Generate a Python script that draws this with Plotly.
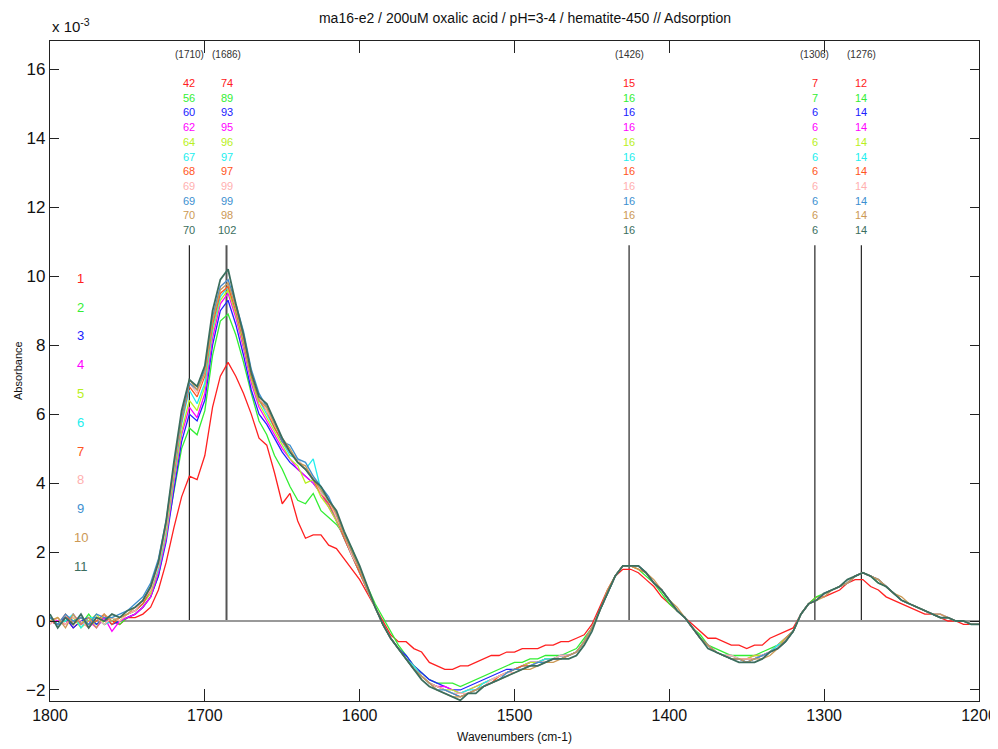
import plotly.graph_objects as go

# ---------------------------------------------------------
# Data (absorbance in units of 1e-4, every 5 cm-1, 1800 -> 1200)
# ---------------------------------------------------------
wavenumbers = list(range(1800, 1199, -5))

s1 = [0, -1, 1, -2, 0, -2, 1, -1, 0, -1,
      1, 1, 2, 4, 9, 17, 27, 36, 42, 41,
      48, 62, 71, 75, 71, 66, 60, 53, 51, 43,
      34, 37, 29, 24, 25, 25, 22, 21, 18, 15,
      12, 8, 4, 0, -4, -6, -6, -8, -9, -12,
      -13, -14, -14, -13, -13, -12, -11, -10, -10, -9,
      -9, -8, -8, -8, -7, -7, -6, -6, -5, -4,
      -1, 4, 9, 13, 15, 15, 14, 12, 10, 7,
      5, 3, 1, -1, -3, -5, -5, -6, -7, -7,
      -8, -7, -7, -5, -4, -3, -2, 2, 5, 7,
      7, 8, 9, 11, 12, 12, 10, 9, 7, 6,
      5, 4, 3, 2, 2, 1, 0, 0, -1, -1,
      -1]
s2 = [1, -1, 0, 1, -1, 2, -1, 0, 1, -1,
      1, 2, 4, 7, 13, 25, 38, 50, 56, 54,
      61, 77, 87, 89, 83, 75, 66, 58, 54, 48,
      44, 39, 35, 34, 37, 32, 30, 28, 25, 21,
      15, 10, 5, 1, -3, -7, -10, -13, -15, -17,
      -18, -18, -18, -19, -18, -17, -16, -15, -14, -13,
      -12, -12, -11, -11, -10, -10, -10, -9, -8, -5,
      -2, 3, 8, 13, 16, 16, 15, 13, 11, 8,
      5, 3, 1, -2, -4, -7, -8, -9, -10, -10,
      -10, -10, -9, -8, -7, -5, -3, 2, 5, 7,
      8, 9, 10, 11, 13, 14, 13, 11, 10, 8,
      6, 5, 4, 3, 2, 1, 1, 0, 0, -1,
      -1]
s3 = [0, -1, 1, -2, 0, 1, -1, 1, -1, 0,
      1, 2, 4, 7, 13, 23, 38, 52, 60, 58,
      64, 80, 90, 93, 86, 77, 67, 60, 57, 53,
      49, 46, 44, 42, 40, 37, 34, 29, 24, 19,
      14, 9, 4, -1, -5, -8, -10, -13, -15, -17,
      -18, -19, -20, -20, -19, -18, -17, -16, -15, -14,
      -14, -13, -12, -12, -11, -11, -10, -10, -9, -6,
      -2, 3, 8, 13, 16, 16, 16, 14, 11, 9,
      6, 3, 1, -2, -5, -7, -9, -10, -11, -11,
      -12, -11, -10, -9, -7, -5, -3, 2, 5, 6,
      8, 9, 10, 11, 13, 14, 13, 12, 10, 8,
      6, 5, 4, 3, 2, 1, 1, 0, 0, -1,
      -1]
s4 = [1, 0, -1, 2, -1, 0, -2, 1, -3, 0,
      1, 2, 4, 7, 14, 24, 40, 54, 62, 59,
      66, 82, 92, 95, 88, 79, 69, 62, 58, 54,
      50, 47, 44, 42, 40, 37, 33, 29, 24, 19,
      14, 9, 4, -1, -5, -8, -11, -13, -16, -18,
      -19, -19, -20, -21, -20, -19, -18, -17, -16, -15,
      -14, -13, -12, -12, -11, -11, -10, -10, -9, -6,
      -2, 3, 8, 13, 16, 16, 16, 14, 11, 9,
      6, 3, 1, -2, -5, -7, -9, -10, -10, -11,
      -11, -10, -10, -9, -7, -5, -3, 2, 5, 6,
      8, 9, 10, 11, 13, 14, 13, 12, 10, 8,
      6, 5, 4, 3, 2, 2, 1, 0, 0, -1,
      -1]
s5 = [0, 1, -1, 1, -2, 0, 2, -1, 1, 0,
      2, 3, 5, 8, 15, 25, 41, 55, 64, 61,
      68, 84, 93, 96, 89, 80, 70, 63, 59, 55,
      51, 47, 45, 40, 41, 36, 33, 29, 24, 19,
      14, 9, 4, -1, -5, -8, -11, -13, -16, -18,
      -19, -20, -20, -21, -20, -19, -18, -17, -16, -15,
      -14, -13, -12, -12, -11, -11, -10, -10, -9, -6,
      -2, 3, 8, 13, 16, 16, 16, 14, 11, 9,
      6, 3, 1, -2, -5, -7, -9, -10, -10, -11,
      -11, -10, -10, -9, -7, -5, -3, 2, 5, 6,
      8, 9, 10, 11, 13, 14, 13, 12, 10, 8,
      6, 5, 4, 3, 2, 1, 1, 0, 0, -1,
      -1]
s6 = [1, -1, 0, 2, -2, 1, 1, -1, 0, 1,
      2, 3, 5, 9, 15, 26, 42, 57, 67, 63,
      69, 85, 94, 97, 90, 81, 71, 64, 60, 56,
      52, 48, 47, 44, 47, 38, 34, 30, 24, 19,
      14, 9, 4, -1, -5, -8, -11, -13, -16, -18,
      -19, -20, -21, -21, -20, -20, -18, -17, -16, -15,
      -14, -13, -13, -12, -11, -11, -10, -10, -9, -6,
      -2, 3, 8, 13, 16, 16, 16, 14, 11, 9,
      6, 3, 1, -2, -5, -7, -9, -10, -10, -11,
      -11, -11, -10, -9, -7, -6, -3, 2, 5, 6,
      8, 9, 10, 11, 13, 14, 13, 12, 10, 8,
      6, 5, 4, 3, 2, 2, 1, 0, 0, -1,
      -1]
s7 = [0, -1, 2, -1, 1, -1, 0, 2, -1, 1,
      2, 3, 5, 9, 16, 27, 43, 58, 68, 65,
      71, 86, 95, 97, 90, 81, 71, 64, 61, 56,
      52, 49, 46, 44, 41, 37, 34, 30, 24, 19,
      14, 9, 4, -1, -5, -8, -11, -14, -16, -18,
      -19, -20, -21, -22, -21, -20, -19, -18, -16, -15,
      -14, -13, -13, -12, -12, -11, -11, -10, -9, -6,
      -2, 3, 8, 13, 16, 16, 15, 14, 11, 9,
      6, 3, 1, -2, -5, -7, -9, -10, -11, -11,
      -11, -11, -10, -9, -8, -6, -3, 2, 5, 6,
      8, 9, 10, 11, 13, 14, 13, 12, 10, 8,
      6, 5, 4, 3, 2, 1, 1, 0, 0, -1,
      -1]
s8 = [-1, 1, -1, 1, 0, -2, 1, -1, 1, 0,
      2, 3, 6, 9, 16, 27, 44, 59, 69, 66,
      72, 88, 97, 99, 91, 82, 72, 65, 61, 57,
      53, 49, 47, 44, 42, 37, 35, 30, 25, 19,
      15, 9, 4, -1, -5, -8, -11, -14, -16, -18,
      -19, -20, -21, -21, -21, -20, -19, -17, -16, -15,
      -15, -14, -13, -12, -12, -11, -10, -10, -9, -6,
      -2, 3, 8, 13, 16, 16, 16, 14, 11, 9,
      6, 3, 1, -2, -5, -7, -9, -10, -10, -11,
      -11, -11, -10, -9, -8, -6, -3, 2, 5, 6,
      8, 9, 10, 11, 13, 14, 13, 12, 10, 8,
      6, 5, 4, 3, 2, 2, 1, 0, 0, -1,
      -1]
s9 = [1, -1, 2, 0, 1, -1, 2, 1, 1, 2,
      3, 5, 7, 11, 18, 29, 45, 59, 69, 67,
      73, 88, 97, 99, 92, 84, 73, 66, 62, 58,
      52, 51, 47, 46, 42, 39, 36, 31, 25, 20,
      15, 9, 4, -1, -5, -8, -11, -14, -16, -18,
      -20, -20, -21, -22, -21, -20, -19, -18, -17, -15,
      -14, -14, -13, -12, -12, -11, -11, -10, -9, -6,
      -2, 3, 8, 13, 16, 16, 16, 14, 11, 9,
      6, 3, 1, -2, -5, -7, -9, -10, -11, -11,
      -12, -11, -10, -9, -8, -6, -3, 2, 5, 6,
      8, 9, 10, 11, 13, 14, 13, 12, 10, 8,
      6, 5, 4, 3, 2, 1, 1, 0, 0, -1,
      -1]
s10 = [0, 1, -2, 2, -1, 1, -2, 2, 0, 1,
       2, 4, 6, 10, 17, 28, 45, 60, 70, 67,
       72, 87, 96, 98, 91, 82, 72, 64, 62, 57,
       53, 50, 46, 45, 41, 38, 35, 31, 25, 20,
       15, 9, 4, -1, -5, -8, -11, -14, -16, -18,
       -20, -21, -22, -22, -21, -20, -19, -18, -17, -16,
       -15, -14, -14, -13, -12, -12, -11, -10, -9, -6,
       -2, 3, 9, 13, 16, 16, 15, 14, 12, 9,
       6, 4, 1, -2, -5, -7, -9, -10, -11, -11,
       -12, -11, -11, -10, -8, -5, -3, 2, 5, 6,
       7, 9, 10, 11, 13, 14, 13, 12, 10, 8,
       7, 5, 4, 3, 2, 2, 1, 0, 0, -1,
       -1]
s11 = [2, -2, 1, -1, 2, -2, 1, 0, 2, 1,
       3, 4, 6, 10, 17, 29, 46, 61, 70, 68,
       74, 90, 99, 102, 92, 83, 72, 65, 63, 58,
       53, 49, 46, 44, 41, 39, 35, 32, 26, 21,
       16, 10, 4, -1, -5, -8, -11, -14, -17, -19,
       -20, -21, -22, -23, -21, -21, -19, -18, -17, -16,
       -15, -14, -13, -13, -12, -11, -11, -11, -10, -7,
       -3, 3, 8, 13, 16, 16, 16, 14, 11, 9,
       6, 3, 1, -2, -5, -8, -9, -10, -11, -12,
       -12, -12, -11, -9, -8, -6, -3, 2, 5, 6,
       8, 9, 10, 12, 13, 14, 13, 11, 10, 8,
       6, 5, 4, 3, 2, 1, 1, 0, 0, -1,
       -1]

series = [s1, s2, s3, s4, s5, s6, s7, s8, s9, s10, s11]
series_names = [str(i) for i in range(1, 12)]
colors = ["#ff2020", "#33ee33", "#2020ff", "#ff00ff", "#b8f020", "#22eeee",
          "#ff5522", "#ffb0b0", "#3d8fd0", "#cc9955", "#3b6e5e"]

# marker bands and the peak heights printed above them (x 1e-4)
band_wn = [1710, 1686, 1426, 1306, 1276]
band_values = {
    1710: [42, 56, 60, 62, 64, 67, 68, 69, 69, 70, 70],
    1686: [74, 89, 93, 95, 96, 97, 97, 99, 99, 98, 102],
    1426: [15, 16, 16, 16, 16, 16, 16, 16, 16, 16, 16],
    1306: [7, 7, 6, 6, 6, 6, 6, 6, 6, 6, 6],
    1276: [12, 14, 14, 14, 14, 14, 14, 14, 14, 14, 14],
}

title = "ma16-e2 / 200uM oxalic acid / pH=3-4 / hematite-450 // Adsorption"
FONT = "Liberation Sans Narrow, Liberation Sans, Arial, sans-serif"

# page body has an 8px margin -> figure is sized/offset to compensate
W, H = 990, 741
ML, MR, MT, MB = 42, 19, 33, 48
PW, PH = W - ML - MR, H - MT - MB

# ---------------------------------------------------------
# Traces
# ---------------------------------------------------------
fig = go.Figure()
for name, vals, col in zip(series_names, series, colors):
    fig.add_trace(go.Scatter(
        x=wavenumbers,
        y=[v / 10 for v in vals],
        mode="lines",
        name=name,
        line=dict(color=col, width=1.8 if name == "11" else 1.3),
        showlegend=False,
    ))

# ---------------------------------------------------------
# Band marker lines + labels
# ---------------------------------------------------------
for wn in band_wn:
    fig.add_shape(
        type="line", xref="x", yref="y",
        x0=wn, x1=wn, y0=0, y1=10.9,
        line=dict(color="#555" if wn == 1686 else "#111",
                  width=2 if wn == 1686 else 1.1),
        layer="below",
    )
    fig.add_annotation(
        x=wn, y=16.44, xref="x", yref="y", text=f"({wn})",
        showarrow=False, font=dict(family=FONT, size=10, color="#333"),
    )
    for k, (v, col) in enumerate(zip(band_values[wn], colors)):
        fig.add_annotation(
            x=wn, y=15.6 - 0.426 * k, xref="x", yref="y", text=str(v),
            showarrow=False, font=dict(family=FONT, size=11, color=col),
        )

# left-hand key
for k, (name, col) in enumerate(zip(series_names, colors)):
    fig.add_annotation(
        x=1780, y=9.94 - 0.835 * k, xref="x", yref="y", text=name,
        showarrow=False, font=dict(family=FONT, size=13, color=col),
    )

# exponent label
fig.add_annotation(
    x=0.0, y=1, xref="paper", yref="paper", xanchor="left", yanchor="bottom",
    yshift=4, text="x 10<sup>-3</sup>", showarrow=False,
    font=dict(family=FONT, size=15, color="#111"),
)

# axis titles
fig.add_annotation(
    x=0.5, y=-36 / PH, xref="paper", yref="paper", yanchor="middle",
    text="Wavenumbers (cm-1)", showarrow=False,
    font=dict(family=FONT, size=12, color="#111"),
)
fig.add_annotation(
    x=-32 / PW, y=0.5, xref="paper", yref="paper", xanchor="center",
    text="Absorbance", textangle=-90, showarrow=False,
    font=dict(family=FONT, size=11, color="#111"),
)

# ---------------------------------------------------------
# Layout
# ---------------------------------------------------------
fig.update_layout(
    width=W,
    height=H,
    paper_bgcolor="white",
    plot_bgcolor="white",
    margin=dict(l=ML, r=MR, t=MT, b=MB, autoexpand=False),
    font=dict(family=FONT, color="#111"),
    title=dict(text=title, x=517 / W, xanchor="center",
               y=1 - 10 / H, yanchor="middle",
               font=dict(family=FONT, size=14, color="#111")),
    xaxis=dict(
        range=[1800, 1200],
        tickvals=[1800, 1700, 1600, 1500, 1400, 1300, 1200],
        ticks="inside", ticklen=12, tickwidth=1.3, tickcolor="#222",
        showline=True, linecolor="#222", linewidth=1.3, mirror="ticks",
        showgrid=False, zeroline=False, automargin=False,
        ticklabeloverflow="allow",
        tickfont=dict(family=FONT, size=16, color="#111"),
    ),
    yaxis=dict(
        range=[-2.32, 16.82],
        tickvals=list(range(-2, 17, 2)),
        ticks="inside", ticklen=9, tickwidth=1.3, tickcolor="#222",
        showline=True, linecolor="#222", linewidth=1.3, mirror="ticks",
        showgrid=False, automargin=False,
        zeroline=True, zerolinecolor="#999", zerolinewidth=2,
        tickfont=dict(family=FONT, size=17, color="#111"),
    ),
)

fig.write_html("out.html")
